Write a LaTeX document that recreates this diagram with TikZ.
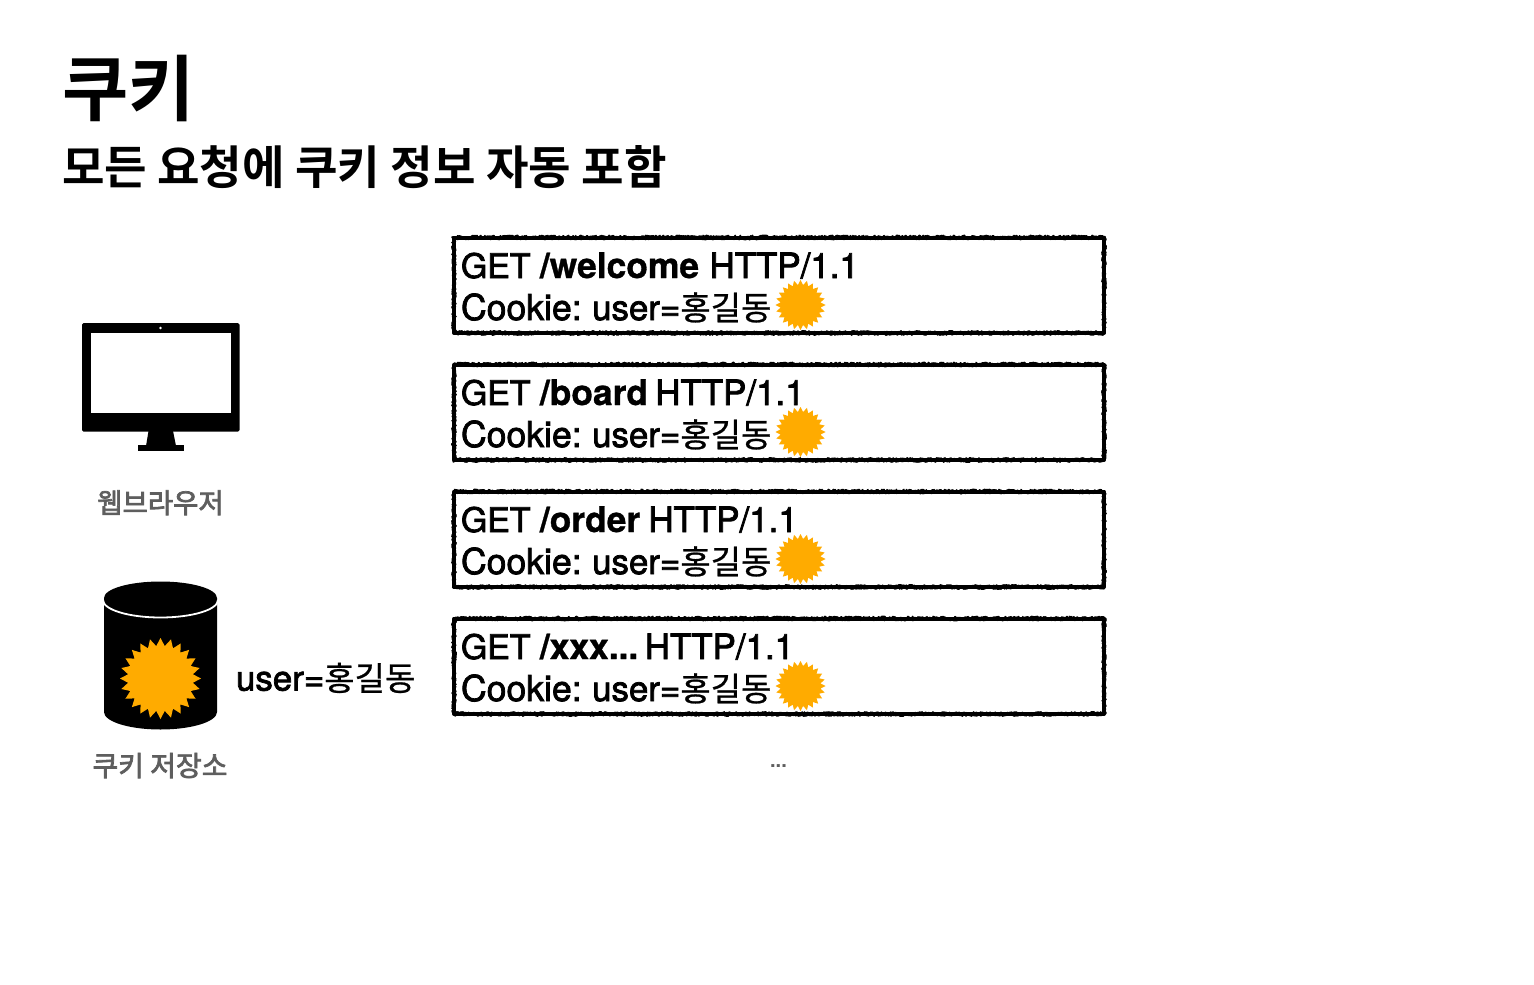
\documentclass[tikz,border=0pt]{standalone}
\usepackage{fontspec}
\setmainfont{TeX Gyre Heros}
\newfontfamily\lat{TeX Gyre Heros}
\newfontfamily\latb{TeX Gyre Heros Bold}
\newfontfamily\kr{Noto Sans CJK KR}
\newfontfamily\krb{Noto Sans CJK KR Bold}
\usetikzlibrary{shapes.geometric,decorations.pathmorphing}
\definecolor{sun}{HTML}{FFAB00}
\definecolor{lab}{HTML}{5E5E5E}
\newcommand{\heavy}[1]{\special{pdf:code 2 Tr #1 w}}
\newcommand{\heavyoff}{\special{pdf:code 0 Tr}}
\newcommand{\hg}[1]{{\fontsize{33}{36}\kr\heavy{0.25}#1\heavy{0.75}}}
\newcommand{\plainbold}[1]{{\fontsize{35.4}{36}\latb\heavy{0.3}#1\heavy{0.75}}}
\tikzset{
  x=1pt,y=-1pt,
  txt/.style={anchor=base west,inner sep=0pt,outer sep=0pt,text=black},
  reqline/.style={txt,font=\fontsize{34.9}{36}\lat},
  title/.style={txt,font=\fontsize{72}{74}\krb},
  subtitle/.style={txt,font=\fontsize{46.2}{50}\krb},
  caption/.style={anchor=base,inner sep=0pt,text=lab},
  rough/.style={decorate,decoration={random steps,segment length=1.1pt,amplitude=2pt}},
  reqbox/.style={anchor=north west,minimum width=650pt,minimum height=95.5pt,inner sep=0pt,outer sep=0pt,
    draw=black,line width=4pt,line join=round,
    preaction={draw=black,line width=1.8pt,line join=round,rough},
    postaction={draw=black,line width=1.8pt,line join=round,rough}},
  sunsmall/.style={star,star points=24,star point ratio=1.24,minimum size=50pt,inner sep=0pt,fill=sun,draw=none},
  sunbig/.style={star,star points=24,star point ratio=1.24,minimum size=81pt,inner sep=0pt,fill=sun,draw=none},
}
\newcommand{\hvtext}[1]{\heavy{0.75}#1\heavyoff}
\newcommand{\reqrow}[4]{%
  \node[reqbox] (box#1) at (454,#2+0.5) {};
  \node[reqline] (path#1) at (461,#2+41) {\hvtext{{\fontsize{33.8}{36}\lat GET}\hspace{-0.3pt} \plainbold{#3}\hspace{#4pt} HTTP/1.1}};
  \node[reqline] (cookie#1) at (461,#2+83) {\hvtext{{\fontsize{35.6}{36}\lat Cookie:}\hspace{-2.5pt} user=\hg{홍길동}}};
  \node[sunsmall] (sun#1) at (800.5,#2+68) {};
}
\begin{document}
\begin{tikzpicture}
\pgfmathsetseed{7}
\useasboundingbox (0,0) rectangle (1534,985);
\fill[white] (0,0) rectangle (1534,985);
\node[title] (head) at (62,115) {쿠키};
\node[subtitle] (sub) at (62,184) {모든 요청에 쿠키 정보 자동 포함};
% monitor
\fill[black,rounded corners=1.5pt] (82,323) rectangle (239.5,431.5);
\fill[white] (91,333) rectangle (231,413);
\fill[white] (160.5,328) circle (1.4);
\fill[black] (148.5,431) -- (173,431) -- (176,446) -- (146,446) -- cycle;
\fill[black] (138,445) rectangle (183.5,450.5);
\node[caption,font=\fontsize{27.5}{30}\kr] (browser) at (160.5,513) {\special{pdf:code 0.369 G}\heavy{0.7}웹브라우저\heavyoff};
% cookie store
\fill[black] (104,598) arc[x radius=56.5,y radius=16.5,start angle=180,end angle=360] -- (217,712)
  arc[x radius=56.5,y radius=17.5,start angle=0,end angle=180] -- cycle;
\draw[white,line width=1.8pt] (103,600) arc[x radius=57.5,y radius=17.5,start angle=180,end angle=0];
\node[sunbig] (bigsun) at (160.5,678.5) {};
\node[reqline] (stored) at (236,690.5) {\hvtext{user=\hg{홍길동}}};
\node[caption,font=\fontsize{28}{30}\kr] (store) at (160,776) {\special{pdf:code 0.369 G}\heavy{0.7}쿠키 저장소\heavyoff};
% requests
\reqrow{1}{237}{/welcome}{0.8}
\reqrow{2}{364}{/board}{-2.5}
\reqrow{3}{491}{/order}{-1.5}
\reqrow{4}{618}{/xxx...}{-6.5}
\node[anchor=base,inner sep=0pt,text=lab,font=\fontsize{20}{22}\latb] (more) at (778.5,767) {...};
\end{tikzpicture}
\end{document}
